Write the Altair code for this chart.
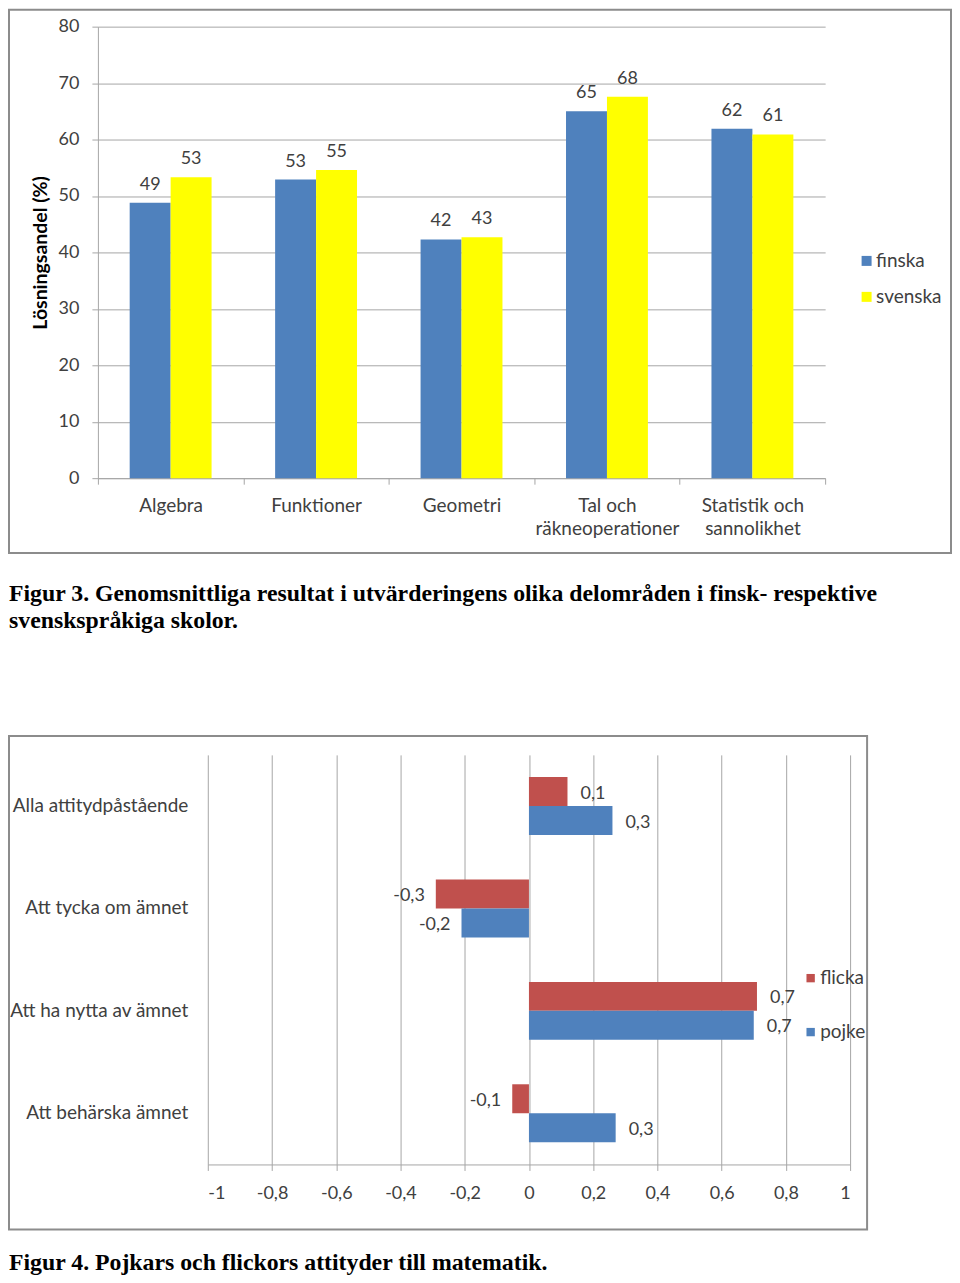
import altair as alt
import pandas as pd

# ---------------- Figur 3 data ----------------
areas = ["Algebra", "Funktioner", "Geometri", "Tal och\nräkneoperationer", "Statistik och\nsannolikhet"]
languages = ["finska", "svenska"]
finska = [48.8, 52.9, 42.3, 65.0, 61.9]
svenska = [53.3, 54.6, 42.7, 67.6, 60.9]
y_ticks_top = [0, 10, 20, 30, 40, 50, 60, 70, 80]

# ---------------- Figur 4 data ----------------
statements = ["Alla attitydpåstående", "Att tycka om ämnet", "Att ha nytta av ämnet", "Att behärska ämnet"]
genders = ["flicka", "pojke"]
flicka = [0.12, -0.29, 0.71, -0.052]
pojke = [0.26, -0.21, 0.70, 0.27]
x_ticks_bottom = [-1, -0.8, -0.6, -0.4, -0.2, 0, 0.2, 0.4, 0.6, 0.8, 1]

caption3 = ["Figur 3. Genomsnittliga resultat i utvärderingens olika delområden i finsk-  respektive",
            "svenskspråkiga skolor."]
caption4 = ["Figur 4. Pojkars och flickors attityder till matematik."]

BLUE = "#4F81BD"
YELLOW = "#FFFF00"
RED = "#C0504D"
GRID = "#A6A6A6"
LABEL = "#404040"
FRAME = "#8C8C8C"
FONT = "Lato"
SERIF = "Liberation Serif"

rows1 = []
for i, a in enumerate(areas):
    for lang, vals in zip(languages, [finska, svenska]):
        rows1.append({"area": a, "lang": lang, "value": vals[i], "label": f"{vals[i]:.0f}"})
df1 = pd.DataFrame(rows1)

rows2 = []
for i, s in enumerate(statements):
    for g, vals in zip(genders, [flicka, pojke]):
        rows2.append({"stmt": s, "gender": g, "value": vals[i],
                      "label": f"{vals[i]:.1f}".replace(".", ",")})
df2 = pd.DataFrame(rows2)

one = pd.DataFrame({"k": [0]})

# ---------------- Top chart ----------------
base1 = alt.Chart(df1).encode(
    x=alt.X("area:N", sort=areas,
            scale=alt.Scale(paddingInner=0, paddingOuter=0),
            axis=alt.Axis(title=None, labelAngle=0, labelExpr="split(datum.label, '\\n')",
                          tickBand="extent", tickSize=6, labelPadding=12, labelLineHeight=23,
                          labelFontSize=19, labelColor=LABEL, domainColor=GRID, tickColor=GRID,
                          grid=False, labelFont=FONT)),
    xOffset=alt.XOffset("lang:N", sort=languages,
                        scale=alt.Scale(paddingInner=0, paddingOuter=0.776)),
    y=alt.Y("value:Q", scale=alt.Scale(domain=[0, 80], nice=False),
            axis=alt.Axis(values=y_ticks_top, title="Lösningsandel (%)", titleFontSize=19.5,
                          titleFontWeight="bold", titleColor="#000000", titlePadding=8,
                          titleFont=FONT, labelFont=FONT,
                          labelFontSize=18, labelColor=LABEL, labelPadding=13, tickSize=6,
                          tickColor=GRID, domainColor=GRID, gridColor=GRID, grid=True)),
)
bars1 = base1.mark_bar().encode(
    color=alt.Color("lang:N", sort=languages,
                    scale=alt.Scale(domain=languages, range=[BLUE, YELLOW]),
                    legend=alt.Legend(title=None, orient="none", legendX=760, legendY=225,
                                      symbolType="square", symbolSize=100, symbolStrokeWidth=0,
                                      labelFontSize=19, labelColor=LABEL, labelFont=FONT,
                                      rowPadding=16, labelOffset=0, padding=0)),
)
text1 = base1.mark_text(baseline="alphabetic", dy=-13, fontSize=18, color=LABEL, font=FONT).encode(
    text="label:N")
frame1 = alt.Chart(one).mark_rect(fill="transparent", stroke=FRAME, strokeWidth=2).encode(
    x=alt.value(-89), x2=alt.value(854), y=alt.value(-17), y2=alt.value(527))
top = alt.layer(frame1, bars1, text1).properties(width=728, height=452)

# ---------------- Caption 3 ----------------
cap1 = alt.Chart(one).mark_text(text=caption3, align="left", baseline="alphabetic", lineHeight=27,
                                font=SERIF, fontWeight="bold", fontSize=23.8,
                                color="#000000").encode(
    x=alt.value(-89), y=alt.value(47)).properties(width=700, height=181)

# ---------------- Bottom chart ----------------
base2 = alt.Chart(df2).encode(
    y=alt.Y("stmt:N", sort=statements, scale=alt.Scale(paddingInner=0, paddingOuter=0),
            axis=alt.Axis(title=None, ticks=False, domain=False, labelPadding=20,
                          labelFontSize=19, labelLimit=300, labelColor=LABEL, labelFont=FONT)),
    yOffset=alt.YOffset("gender:N", sort=genders,
                        scale=alt.Scale(paddingInner=0, paddingOuter=0.767)),
    x=alt.X("value:Q", scale=alt.Scale(domain=[-1, 1], nice=False),
            axis=alt.Axis(values=x_ticks_bottom, format=".1~f",
                          labelExpr="replace(replace(datum.label, '.', ','), '\u2212', '-')",
                          title=None, grid=True, gridColor=GRID, domainColor=GRID, tickColor=GRID,
                          tickSize=6, labelPadding=14, labelFontSize=18, labelColor=LABEL,
                          labelFont=FONT)),
)
bars2 = base2.mark_bar().encode(
    color=alt.Color("gender:N", sort=genders,
                    scale=alt.Scale(domain=genders, range=[RED, BLUE]),
                    legend=alt.Legend(title=None, orient="none", legendX=594, legendY=214,
                                      symbolType="square", symbolSize=70, symbolStrokeWidth=0,
                                      labelFontSize=19, labelColor=LABEL, labelFont=FONT,
                                      rowPadding=34, labelOffset=0, padding=0)),
)
pos_text = base2.transform_filter("datum.value >= 0").mark_text(
    align="left", baseline="middle", dx=13, dy=2, fontSize=18, color=LABEL, font=FONT).encode(text="label:N")
neg_text = base2.transform_filter("datum.value < 0").mark_text(
    align="right", baseline="middle", dx=-11, dy=2, fontSize=18, color=LABEL, font=FONT).encode(text="label:N")
frame2 = alt.Chart(one).mark_rect(fill="transparent", stroke=FRAME, strokeWidth=2).encode(
    x=alt.value(-199), x2=alt.value(660), y=alt.value(-19), y2=alt.value(475))
bottom = alt.layer(frame2, bars2, pos_text, neg_text).properties(width=643, height=410)

spacer = alt.Chart(one).mark_point(opacity=0).encode(
    x=alt.value(0), y=alt.value(0)).properties(width=110, height=10)
row2 = alt.hconcat(spacer, bottom, spacing=0, bounds="flush").resolve_scale(
    color="independent").resolve_legend(color="independent")

# ---------------- Caption 4 ----------------
cap2 = alt.Chart(one).mark_text(text=caption4, align="left", baseline="alphabetic",
                                font=SERIF, fontWeight="bold", fontSize=23.8,
                                color="#000000").encode(
    x=alt.value(-89), y=alt.value(40)).properties(width=700, height=40)

chart = alt.vconcat(top, cap1, row2, cap2, spacing=0).resolve_scale(
    color="independent").resolve_legend(color="independent").properties(
    padding={"left": 0, "top": 0, "right": 0, "bottom": 0}, background="white"
).configure(font=FONT).configure_view(stroke="transparent", strokeWidth=0)

chart.save("out.html", embed_options={"renderer": "svg", "actions": False})
